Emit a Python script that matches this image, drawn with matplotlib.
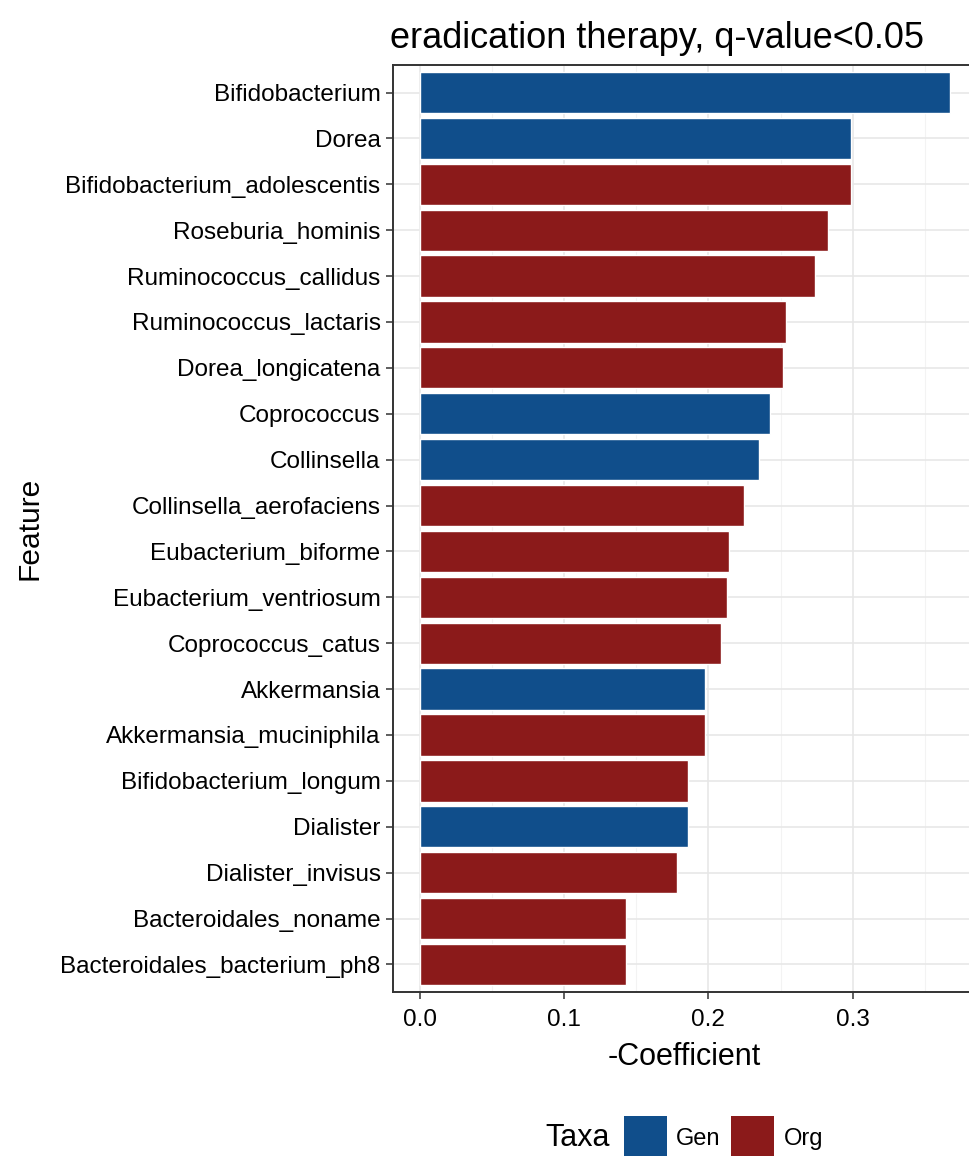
"""
Horizontal bar chart of taxa coefficients after eradication therapy.
"""

import matplotlib.pyplot as plt
import matplotlib.patches as mpatches
import matplotlib.ticker as mticker
import numpy as np

plt.rcParams["font.family"] = ["Liberation Sans", "DejaVu Sans"]

C_GEN = "#104E8B"
C_ORG = "#8B1A1A"
C_GRID = "#E6E6E6"
C_MINOR = "#F3F3F3"
C_BORDER = "#333333"

features = [
    "Bifidobacterium",
    "Dorea",
    "Bifidobacterium_adolescentis",
    "Roseburia_hominis",
    "Ruminococcus_callidus",
    "Ruminococcus_lactaris",
    "Dorea_longicatena",
    "Coprococcus",
    "Collinsella",
    "Collinsella_aerofaciens",
    "Eubacterium_biforme",
    "Eubacterium_ventriosum",
    "Coprococcus_catus",
    "Akkermansia",
    "Akkermansia_muciniphila",
    "Bifidobacterium_longum",
    "Dialister",
    "Dialister_invisus",
    "Bacteroidales_noname",
    "Bacteroidales_bacterium_ph8",
]
neg_coef = [
    0.367, 0.299, 0.299, 0.283, 0.274, 0.254, 0.252, 0.243, 0.235, 0.225,
    0.214, 0.213, 0.209, 0.198, 0.198, 0.186, 0.186, 0.178, 0.143, 0.143,
]
taxa = [
    "Gen", "Gen", "Org", "Org", "Org", "Org", "Org", "Gen", "Gen", "Org",
    "Org", "Org", "Org", "Gen", "Org", "Org", "Gen", "Org", "Org", "Org",
]
x_ticks = [0.0, 0.1, 0.2, 0.3]

colors = {"Gen": C_GEN, "Org": C_ORG}

fig = plt.figure(figsize=(9.7, 11.56), dpi=100)
ax = fig.add_axes([0.4052, 0.1419, 0.601, 0.8019])

y = np.arange(len(features))
ax.barh(y, neg_coef, height=0.9, color=[colors[t] for t in taxa],
        edgecolor="white", linewidth=1.0, zorder=3)

# ggplot-style expansion of the scales
xmax = max(neg_coef)
ax.set_xlim(-0.05 * xmax, 1.05 * xmax)
ax.set_ylim(len(features) - 0.4, -0.6)

ax.set_yticks(y)
ax.set_yticklabels(features)
ax.xaxis.set_major_locator(mticker.FixedLocator(x_ticks))
ax.xaxis.set_major_formatter(mticker.FormatStrFormatter("%.1f"))
ax.xaxis.set_minor_locator(mticker.MultipleLocator(0.05))

ax.grid(True, which="major", color=C_GRID, linewidth=1.1, zorder=0)
ax.grid(True, which="minor", axis="x", color=C_MINOR, linewidth=0.8, zorder=0)
ax.tick_params(axis="both", which="major", length=5, width=1.1,
               color=C_BORDER, labelsize=17.5, labelcolor="black")
ax.tick_params(axis="y", which="major", pad=4)
ax.tick_params(axis="x", which="major", pad=7)
ax.tick_params(axis="x", which="minor", length=0)

for side in ["left", "top", "bottom"]:
    ax.spines[side].set_color(C_BORDER)
    ax.spines[side].set_linewidth(1.4)
ax.spines["right"].set_visible(False)

ax.set_title("eradication therapy, q-value<0.05", loc="left",
             fontsize=26, pad=12, x=-0.005)
ax.set_xlabel("-Coefficient", fontsize=22, labelpad=8)
ax.set_ylabel("Feature", fontsize=21.5, labelpad=12)

# legend along the bottom
fig.text(0.562, 0.0156, "Taxa", fontsize=22, ha="left", va="center")
handles = [mpatches.Patch(facecolor=C_GEN, label="Gen"),
           mpatches.Patch(facecolor=C_ORG, label="Org")]
fig.legend(handles=handles, loc="center left", ncol=2,
           bbox_to_anchor=(0.643, 0.0156), frameon=False, fontsize=17,
           handlelength=1.82, handleheight=2.5, handletextpad=0.4,
           columnspacing=0.45, borderaxespad=0, borderpad=0)

fig.savefig("out.png", dpi=100, facecolor="white")
